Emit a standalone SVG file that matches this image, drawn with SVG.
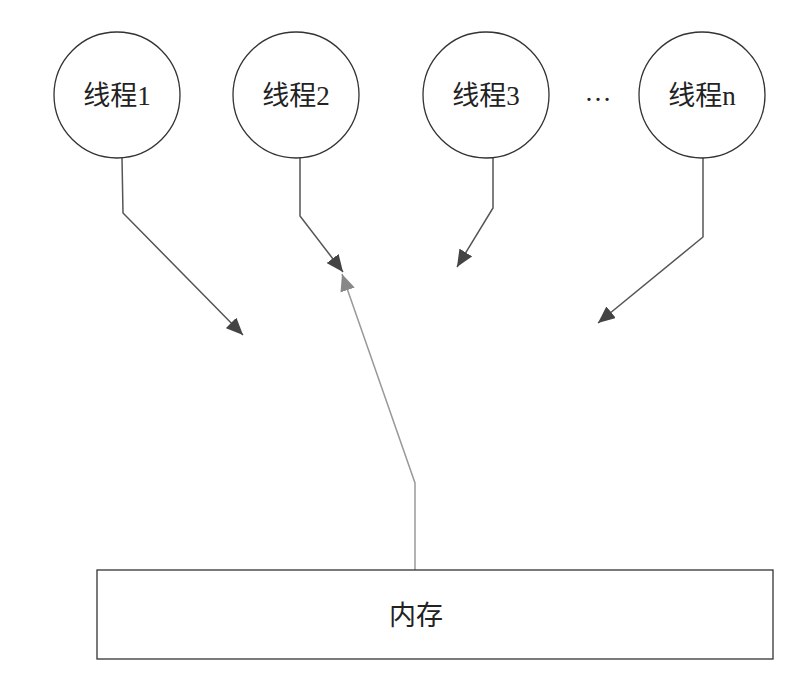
<svg xmlns="http://www.w3.org/2000/svg" width="792" height="678" viewBox="0 0 792 678">
<style>
.node{fill:#fff;stroke:#333;stroke-width:1.3}
.lbl{font-family:"Liberation Serif","Noto Sans CJK SC",serif;font-size:27px;fill:#222;text-anchor:middle;dominant-baseline:central}
.c{fill:none;stroke:#555;stroke-width:1.5}
.cm{fill:none;stroke:#999;stroke-width:1.5}
</style>
<defs>
<marker id="ad" viewBox="0 0 17 15" refX="17" refY="7.5" markerWidth="17" markerHeight="15" markerUnits="userSpaceOnUse" orient="auto"><path d="M0,0 L17,7.5 L0,15 Z" fill="#444"/></marker>
<marker id="al" viewBox="0 0 17 15" refX="17" refY="7.5" markerWidth="17" markerHeight="15" markerUnits="userSpaceOnUse" orient="auto"><path d="M0,0 L17,7.5 L0,15 Z" fill="#888"/></marker>
</defs>
<rect width="792" height="678" fill="#fff"/>
<g id="connectors">
<polyline class="c" points="122,158 123,213 243,335" marker-end="url(#ad)"/>
<polyline class="c" points="300,158 300,216 343,272" marker-end="url(#ad)"/>
<polyline class="c" points="493,158 493,208 457,267" marker-end="url(#ad)"/>
<polyline class="c" points="703,158 703,237 598,323" marker-end="url(#ad)"/>
<polyline class="cm" points="415,570 415,483 342,274" marker-end="url(#al)"/>
</g>
<g id="thread1"><circle class="node" cx="117" cy="95" r="63"/><text class="lbl" x="117" y="96">线程1</text></g>
<g id="thread2"><circle class="node" cx="296" cy="95" r="63"/><text class="lbl" x="296" y="96">线程2</text></g>
<g id="thread3"><circle class="node" cx="486" cy="95" r="63"/><text class="lbl" x="486" y="96">线程3</text></g>
<g id="ellipsis"><text class="lbl" x="598" y="92">…</text></g>
<g id="threadn"><circle class="node" cx="702" cy="95" r="63"/><text class="lbl" x="702" y="96">线程n</text></g>
<g id="memory"><rect class="node" x="97" y="570" width="676" height="89" stroke="#555"/><text class="lbl" x="416" y="616">内存</text></g>
</svg>
